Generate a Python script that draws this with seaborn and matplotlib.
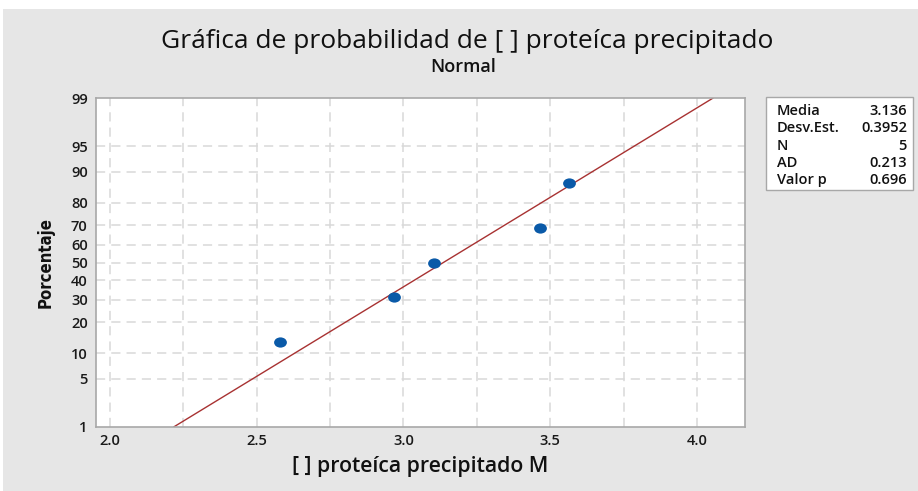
import matplotlib
matplotlib.use("Agg")
import matplotlib.pyplot as plt
import seaborn as sns
import pandas as pd
import numpy as np
from statistics import NormalDist
from matplotlib.path import Path
from matplotlib.patches import Rectangle

# Measured concentrations and their plotting positions (median ranks, %)
concentracion = [2.580, 2.967, 3.104, 3.466, 3.565]
porcentaje = [12.96, 31.48, 50.0, 68.52, 87.04]

# Summary statistics of the sample
media = 3.136
desv_est = 0.3952
n_muestras = 5
ad = 0.213
valor_p = 0.696

y_ticks = [1, 5, 10, 20, 30, 40, 50, 60, 70, 80, 90, 95, 99]
x_ticks = [2.0, 2.5, 3.0, 3.5, 4.0]
x_grid = [2.0, 2.25, 2.5, 2.75, 3.0, 3.25, 3.5, 3.75, 4.0]

nd = NormalDist()
def z(p):
    return nd.inv_cdf(p / 100.0)

sns.set_theme(style="white")
plt.rcParams['font.family'] = ['Open Sans', 'DejaVu Sans']

W, H = 918, 491
fig = plt.figure(figsize=(W / 100, H / 100), dpi=100, facecolor="white")
fig.patches.append(Rectangle((3 / W, 0), 1 - 3 / W, 1 - 9 / H, transform=fig.transFigure,
                             facecolor="#e6e6e6", edgecolor="none", zorder=-10))

ax = fig.add_axes([96 / W, 1 - 427 / H, (745 - 96) / W, (427 - 98) / H])
ax.set_facecolor("white")

pts = pd.DataFrame({"x": concentracion, "z": [z(p) for p in porcentaje]})
fit_p = [1, 99]
fit = pd.DataFrame({"x": [media + desv_est * z(p) for p in fit_p],
                    "z": [z(p) for p in fit_p]})

# grid
for gx in x_grid:
    ax.axvline(gx, color="#d9d9d9", lw=1.1, ls=(0, (6, 4)), zorder=0)
for t in y_ticks[1:-1]:
    ax.axhline(z(t), color="#d9d9d9", lw=1.1, ls=(0, (6, 4)), zorder=0)

sns.lineplot(data=fit, x="x", y="z", ax=ax, color="#a83232", lw=1.0, zorder=2)

circ = Path.unit_circle()
ell = Path(circ.vertices * np.array([1.25, 1.0]), circ.codes)
sns.scatterplot(data=pts, x="x", y="z", ax=ax, color="#0a5aa8", marker=ell,
                s=85, edgecolor="#0a5aa8", linewidth=0, zorder=3)

ax.set_xlim(1.952, 4.164)
ax.set_ylim(z(1), z(99))
ax.set_xticks(x_ticks)
ax.set_xticklabels([f"{v:.1f}" for v in x_ticks])
ax.set_yticks([z(t) for t in y_ticks])
ax.set_yticklabels([str(t) for t in y_ticks])
ax.tick_params(axis="both", which="both", length=4, width=1, color="#a0a0a0",
               labelsize=10.5, labelcolor="#1a1a1a", pad=2, direction="out")
ax.tick_params(axis="x", length=0, pad=5)
for lab in ax.get_xticklabels() + ax.get_yticklabels():
    lab.set_fontweight("semibold")
for s in ax.spines.values():
    s.set_color("#a8a8a8")
    s.set_linewidth(1.2)

ax.set_xlabel("[ ] proteíca precipitado M", fontsize=15.3, color="#111111",
              fontweight="semibold", labelpad=6)
ax.set_ylabel("")
fig.text(46 / W, 1 - 262 / H, "Porcentaje", rotation=90, ha="center", va="center",
         fontsize=12, color="#111111", fontweight="bold", fontstretch="condensed",
         family=["DejaVu Sans"])

fig.text(467 / W, 1 - 42 / H, "Gráfica de probabilidad de [ ] proteíca precipitado",
         ha="center", va="center", fontsize=19, color="#111111", fontweight="medium")
fig.text(463 / W, 1 - 67 / H, "Normal", ha="center", va="center",
         fontsize=13, color="#111111", fontweight="semibold")

# statistics box
fig.patches.append(Rectangle((766 / W, 1 - 190 / H), (913 - 766) / W, (190 - 97) / H,
                             transform=fig.transFigure, facecolor="white",
                             edgecolor="#a8a8a8", lw=1.0, zorder=5))
rows = [("Media", f"{media:.3f}"), ("Desv.Est.", f"{desv_est:.4f}"),
        ("N", f"{n_muestras}"), ("AD", f"{ad:.3f}"), ("Valor p", f"{valor_p:.3f}")]
for i, (lab, val) in enumerate(rows):
    yy = 1 - (111 + i * 17.3) / H
    fig.text(777 / W, yy, lab, ha="left", va="center", fontsize=10.5, color="#111111",
             fontweight="semibold", zorder=6)
    fig.text(907 / W, yy, val, ha="right", va="center", fontsize=10.5, color="#111111",
             fontweight="semibold", zorder=6)

fig.savefig("out.png", dpi=100, facecolor=fig.get_facecolor())
